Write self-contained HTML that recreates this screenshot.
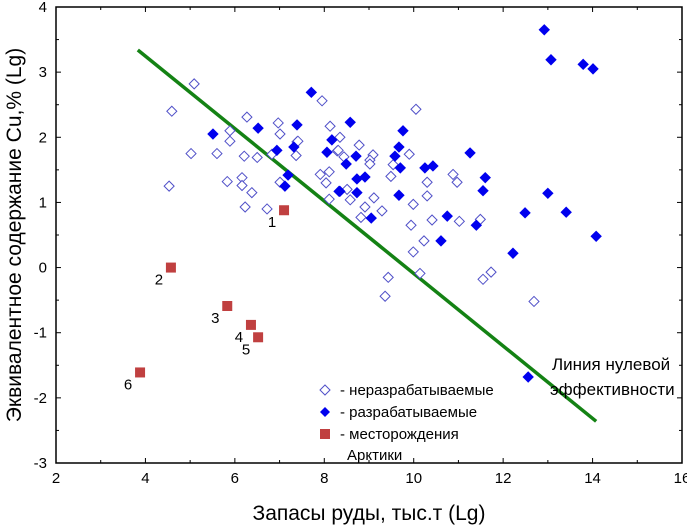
<!DOCTYPE html>
<html><head><meta charset="utf-8"><style>
body{margin:0;background:#fff}
svg{display:block;font-family:"Liberation Sans",sans-serif}
</style></head><body>
<svg id="c" width="687" height="527"></svg>
<script>
const xTicks=[2,4,6,8,10,12,14,16];
const yTicks=[-3,-2,-1,0,1,2,3,4];
const openX=[5.09,4.59,6.27,6.97,5.89,5.89,7.01,7.39,7.95,8.13,5.02,5.60,6.21,6.50,6.83,7.37,4.53,5.83,6.16,6.16,6.38,7.01,6.23,6.72,7.91,8.11,8.04,8.11,8.29,8.44,8.51,10.05,7.41,8.35,8.78,8.31,9.09,9.02,9.02,9.90,9.54,9.49,10.30,10.88,10.97,10.30,8.58,9.11,8.91,8.82,9.29,9.99,9.94,10.41,11.02,11.49,10.23,9.99,10.14,9.43,9.36,11.55,11.73,12.69];
const openY=[2.82,2.40,2.31,2.22,2.10,1.94,2.05,1.93,2.56,2.17,1.75,1.75,1.71,1.69,1.74,1.72,1.25,1.32,1.38,1.26,1.15,1.31,0.93,0.90,1.43,1.47,1.30,1.05,1.79,1.70,1.20,2.43,1.94,2.00,1.88,1.80,1.73,1.65,1.59,1.74,1.58,1.40,1.31,1.43,1.31,1.10,1.04,1.07,0.93,0.77,0.87,0.97,0.65,0.73,0.71,0.74,0.41,0.24,-0.09,-0.15,-0.44,-0.18,-0.07,-0.52];
const fillX=[7.71,5.51,6.52,7.39,6.94,7.32,7.19,7.12,8.17,8.06,8.49,8.33,8.58,8.71,9.76,9.67,9.58,9.70,10.25,10.43,11.26,11.60,11.55,8.73,8.91,8.35,8.73,9.67,9.05,10.75,11.40,10.61,12.49,12.22,12.92,13.07,13.79,14.01,13.00,13.41,14.08,12.56];
const fillY=[2.69,2.05,2.14,2.19,1.80,1.85,1.42,1.25,1.96,1.77,1.59,1.17,2.23,1.71,2.10,1.85,1.71,1.53,1.53,1.56,1.76,1.38,1.18,1.36,1.39,1.17,1.15,1.11,0.76,0.79,0.65,0.41,0.84,0.22,3.65,3.19,3.12,3.05,1.14,0.85,0.48,-1.68];
const arcX=[7.10,4.57,5.83,6.36,6.52,3.88];
const arcY=[0.88,0.00,-0.59,-0.88,-1.07,-1.61];
const arcLabels=["1","2","3","4","5","6"];
const lineX=[3.83,14.08];
const lineY=[3.34,-2.36];

const L=56,R=682,T=7,B=463,x0=2,x1=16,y0=-3,y1=4;
const sx=v=>L+(v-x0)/(x1-x0)*(R-L);
const sy=v=>B-(v-y0)/(y1-y0)*(B-T);
const svg=document.getElementById('c');
const NS='http://www.w3.org/2000/svg';
function mk(tag,at,parent){const e=document.createElementNS(NS,tag);for(const k in at)e.setAttribute(k,at[k]);(parent||svg).appendChild(e);return e;}

let fr=mk('rect',{x:L,y:T,width:R-L,height:B-T,fill:'none',stroke:'#000','stroke-width':1.5});



for(let v=x0;v<=x1;v+=1){const x=sx(v);const len=v%2===0?5:3;
 mk('line',{x1:x,x2:x,y1:B,y2:B-len,stroke:'#000'});mk('line',{x1:x,x2:x,y1:T,y2:T+len,stroke:'#000'});}
for(let v=y0;v<=y1;v+=0.5){const y=sy(v);const len=Number.isInteger(v)?5:3;
 mk('line',{x1:L,x2:L+len,y1:y,y2:y,stroke:'#000'});mk('line',{x1:R,x2:R-len,y1:y,y2:y,stroke:'#000'});}
xTicks.forEach(v=>{const t=mk('text',{x:sx(v),y:B+20,'text-anchor':'middle','font-size':15});t.textContent=v;
 
 });
yTicks.forEach(v=>{const t=mk('text',{x:L-9,y:sy(v)+5,'text-anchor':'end','font-size':15});t.textContent=v;
 
 });

let ln=mk('line',{x1:sx(lineX[0]),y1:sy(lineY[0]),x2:sx(lineX[1]),y2:sy(lineY[1]),stroke:'#148214','stroke-width':3.5});



function diamond(x,y,filled){const d=5;return mk('polygon',{points:`${x},${y-d} ${x+d},${y} ${x},${y+d} ${x-d},${y}`,fill:filled?'#0000ee':'#fff',stroke:filled?'#0000ee':'#5050c8','stroke-width':1});}
openX.forEach((v,i)=>{const p=diamond(sx(v),sy(openY[i]),false);
 
 });
fillX.forEach((v,i)=>{const p=diamond(sx(v),sy(fillY[i]),true);
 
 });
arcX.forEach((v,i)=>{const x=sx(v),y=sy(arcY[i]);
 const r=mk('rect',{x:x-5,y:y-5,width:10,height:10,fill:'#c04040'});
 
 
 const t=mk('text',{x:x-12,y:y+17,'text-anchor':'middle','font-size':15});t.textContent=arcLabels[i];
 
 });
</script>
<svg style="position:absolute;left:0;top:0" width="687" height="527">
<g font-family="Liberation Sans, sans-serif" font-size="15">
<text x="552" y="370" font-size="17">Линия нулевой</text>
<text x="550" y="395" font-size="17">эффективности</text>
<g>
<polygon points="325,385 330,390 325,395 320,390" fill="#fff" stroke="#5050c8"/>
<text x="340" y="395">- неразрабатываемые</text>
<polygon points="325,407 330,412 325,417 320,412" fill="#0000ee"/>
<text x="340" y="417">- разрабатываемые</text>
<rect x="320" y="429" width="10" height="10" fill="#c04040"/>
<text x="340" y="439">- месторождения</text>
<text x="347" y="460">Арктики</text>
</g>
<text x="369" y="520" font-size="21" text-anchor="middle">Запасы руды, тыс.т (Lg)</text>
<text transform="translate(21,235) rotate(-90)" font-size="21" text-anchor="middle">Эквивалентное содержание Cu,% (Lg)</text>
</g></svg>
</body></html>
